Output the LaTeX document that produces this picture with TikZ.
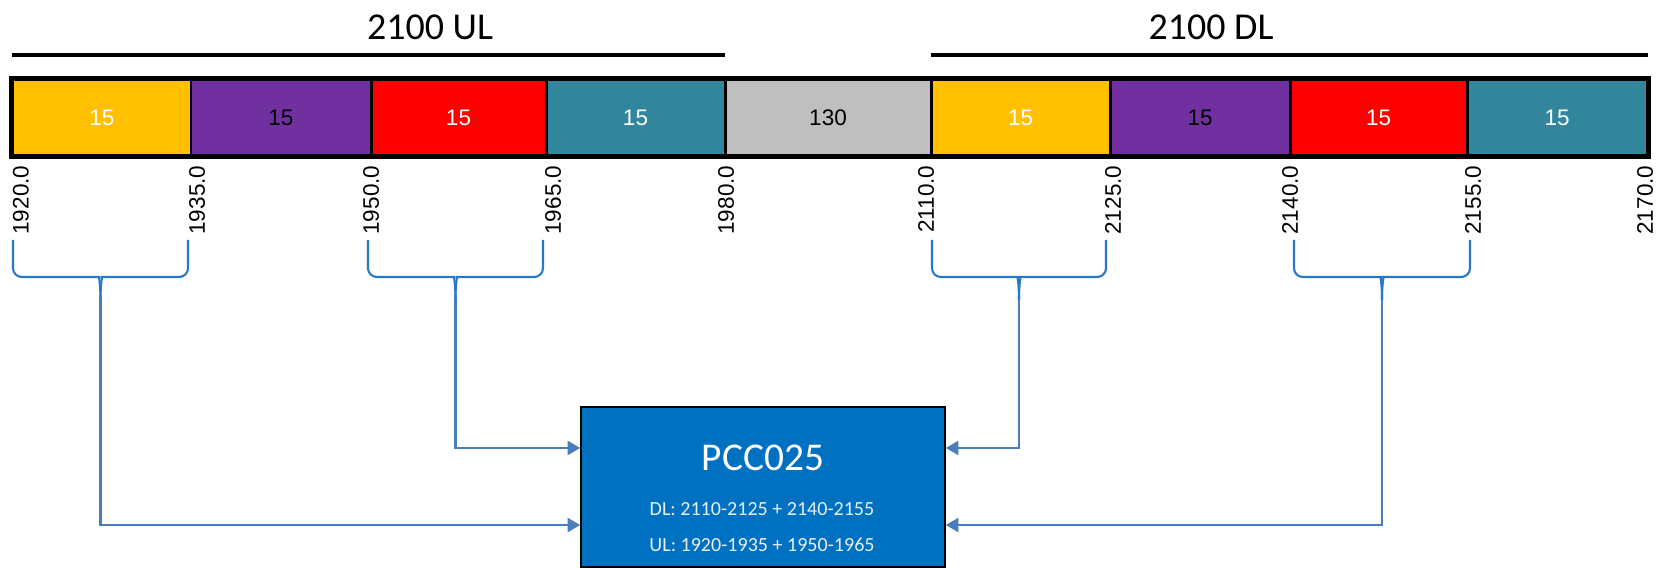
\documentclass[tikz,border=0pt]{standalone}
\usepackage{fontspec}
\setmainfont{Liberation Sans}
\newfontfamily\calibri{Carlito}
\usetikzlibrary{arrows.meta,positioning,calc}
\definecolor{segyellow}{HTML}{FFC000}
\definecolor{segpurple}{HTML}{7030A0}
\definecolor{segred}{HTML}{FF0000}
\definecolor{segteal}{HTML}{31859C}
\definecolor{seggray}{HTML}{BFBFBF}
\definecolor{pccblue}{HTML}{0070C0}
\definecolor{braceblue}{HTML}{2878C8}
\definecolor{feedblue}{HTML}{4A7EBB}
\definecolor{notewhite}{HTML}{E8F0FA}

\begin{document}
\begin{tikzpicture}[x=0.01cm,y=0.01cm,
  seg/.style={draw=black,line width=0.85pt,minimum height=0.75cm,inner sep=0pt,font=\fontsize{6.4}{7}\selectfont},
  tick/.style={rotate=90,anchor=east,inner sep=0pt,font=\fontsize{6.4}{7}\selectfont},
  band/.style={line width=1.15pt},
  bar/.style={line width=1.15pt,line cap=butt},
  title/.style={font=\calibri\fontsize{10.8}{12}\selectfont},
  brace/.style={draw=braceblue,line width=0.6pt,rounded corners=2.5pt},
  feed/.style={draw=feedblue,line width=0.7pt,-{Triangle[length=3.6pt,width=4pt]}},
  pcc/.style={draw=black,line width=0.4pt,fill=pccblue,minimum width=3.64cm,minimum height=1.6cm},
  pcctitle/.style={text=white,inner sep=0pt,font=\calibri\fontsize{11.2}{13}\selectfont},
  pccnote/.style={text=notewhite,inner sep=0pt,font=\calibri\fontsize{5.7}{7}\selectfont}]
\useasboundingbox (0,0) rectangle (1667,-568);

% band titles
\node[title] (ultitle) at (430,-27) {2100 UL};
\node[title] (dltitle) at (1211,-27) {2100 DL};
\draw[bar] (12,-55) -- (725,-55);
\draw[bar] (931,-55) -- (1648,-55);

% channel band
\foreach \a/\b/\c/\t/\v [count=\i] in {13/191/segyellow/white/15, 191/371/segpurple/black/15,
    371/546/segred/white/15, 546/725/segteal/white/15, 725/931/seggray/black/130,
    931/1110/segyellow/white/15, 1110/1290/segpurple/black/15, 1290/1467/segred/white/15,
    1467/1647/segteal/white/15}
  \node[seg,fill=\c,text=\t,minimum width={(\b-\a)*0.01cm}] (s\i) at ({(\a+\b)/2},-117.5) {\v};
\draw[band] (s1.north west) rectangle (s9.south east);

% frequency ticks
\foreach \x/\v [count=\k] in {21/1920.0, 197/1935.0, 371/1950.0, 553/1965.0, 726/1980.0,
    926/2110.0, 1113/2125.0, 1290/2140.0, 1473/2155.0, 1645/2170.0}
  \node[tick] (t\k) at (\x,-165) {\v};

% braces
\foreach \l/\r/\n in {13/188/b1, 368/543/b2, 932/1106/b3, 1294/1470/b4} {
  \pgfmathsetmacro\m{(\l+\r)/2}
  \draw[brace] (\l,-240) -- (\l,-277) -- (\m-10,-277) .. controls (\m-2,-277) and (\m,-282) .. (\m,-300);
  \draw[brace] (\r,-240) -- (\r,-277) -- (\m+10,-277) .. controls (\m+2,-277) and (\m,-282) .. (\m,-300);
  \coordinate (\n) at (\m,-300);
}

% carrier box
\node[pcc] (pcc) at (763,-487) {};
\node[pcctitle] (pccname) at (763,-458) {PCC025};
\node[pccnote] (dlnote) at (762,-509) {DL: 2110-2125 + 2140-2155};
\node[pccnote] (ulnote) at (762,-545) {UL: 1920-1935 + 1950-1965};

\draw[feed] (b1) |- ([yshift=-3.8mm]pcc.west);
\draw[feed] (b2) |- ([yshift=3.9mm]pcc.west);
\draw[feed] (b3) |- ([yshift=3.9mm]pcc.east);
\draw[feed] (b4) |- ([yshift=-3.8mm]pcc.east);
\end{tikzpicture}
\end{document}
